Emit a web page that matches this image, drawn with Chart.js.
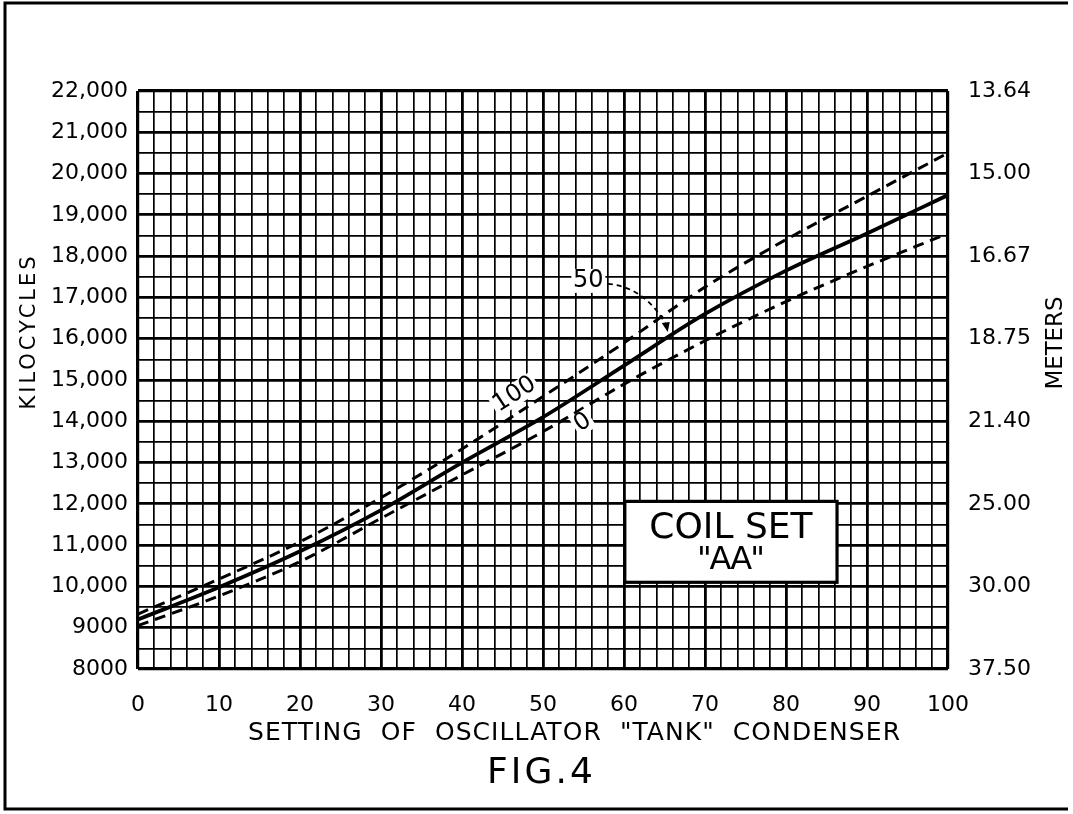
<!DOCTYPE html>
<html lang="en">
<head>
<meta charset="UTF-8">
<title>Fig. 4 - Coil Set AA</title>
<script src="https://cdn.jsdelivr.net/npm/chart.js"></script>
<style>
    body {
        margin: 0;
        background: #fff;
    }
    #wrap {
        width: 1073px;
        height: 814px;
    }
</style>
</head>
<body>
<div id="wrap">
    <canvas id="fig4" width="1073" height="814"></canvas>
</div>
<script>
// condenser dial settings
var settings = [0, 10, 20, 30, 40, 50, 60, 70, 80, 90, 100];

// kilocycles for the three curves (100, 50 and 0 on the other dial)
var kc100 = [9330, 10180, 11080, 12150, 13330, 14600, 15900, 17250, 18400, 19450, 20500];
var kc50  = [9200, 9980, 10850, 11850, 13000, 14100, 15350, 16600, 17650, 18550, 19480];
var kc0   = [9050, 9770, 10600, 11650, 12700, 13750, 14900, 15950, 16900, 17750, 18550];

// axis labels
var xLabels = ['0', '10', '20', '30', '40', '50', '60', '70', '80', '90', '100'];
var kcLabels = ['8000', '9000', '10,000', '11,000', '12,000', '13,000', '14,000', '15,000',
                '16,000', '17,000', '18,000', '19,000', '20,000', '21,000', '22,000'];
var meterLabels = ['37.50', '30.00', '25.00', '21.40', '18.75', '16.67', '15.00', '13.64'];

var FONT = '"DejaVu Sans", sans-serif';

function pts(ys) {
    return settings.map(function (s, i) { return { x: s, y: ys[i] }; });
}

// text that is stretched to a given width with letter spacing
function spaced(ctx, text, cx, cy, width) {
    ctx.letterSpacing = '0px';
    var w = ctx.measureText(text).width;
    var gap = (width - w) / (text.length - 1);
    ctx.letterSpacing = gap + 'px';
    ctx.textAlign = 'left';
    ctx.fillText(text, cx - width / 2, cy);
    ctx.letterSpacing = '0px';
}

var paper = {
    id: 'paper',
    beforeDraw: function (chart) {
        var ctx = chart.ctx;
        ctx.save();
        ctx.fillStyle = '#fff';
        ctx.fillRect(0, 0, chart.width, chart.height);
        ctx.restore();
    },
    afterDraw: function (chart) {
        var ctx = chart.ctx;
        var xs = chart.scales.x, ys = chart.scales.y;
        var px = function (v) { return xs.getPixelForValue(v); };
        var py = function (v) { return ys.getPixelForValue(v); };
        ctx.save();
        ctx.fillStyle = '#000';
        ctx.strokeStyle = '#000';
        ctx.textBaseline = 'middle';

        // outer frame
        ctx.lineWidth = 3;
        ctx.beginPath();
        ctx.moveTo(1068, 3);
        ctx.lineTo(5, 3);
        ctx.lineTo(5, 809);
        ctx.lineTo(1068, 809);
        ctx.stroke();

        // axis titles
        ctx.font = '25px ' + FONT;
        spaced(ctx, 'SETTING  OF  OSCILLATOR  "TANK"  CONDENSER', 574, 733, 652);
        ctx.font = '36px ' + FONT;
        spaced(ctx, 'FIG.4', 540, 774, 106);

        ctx.save();
        ctx.translate(30, 333);
        ctx.rotate(-Math.PI / 2);
        ctx.font = '21px ' + FONT;
        spaced(ctx, 'KILOCYCLES', 0, 0, 153);
        ctx.restore();

        ctx.save();
        ctx.translate(1056, 343);
        ctx.rotate(-Math.PI / 2);
        ctx.font = '23px ' + FONT;
        spaced(ctx, 'METERS', 0, 0, 93);
        ctx.restore();

        // curve tags
        ctx.font = '24px ' + FONT;
        ctx.textAlign = 'center';
        [['100', 46.5, 14650], ['0', 54.9, 13970]].forEach(function (t) {
            ctx.save();
            ctx.translate(px(t[1]), py(t[2]));
            ctx.rotate(-33 * Math.PI / 180);
            ctx.fillStyle = '#fff';
            var w = ctx.measureText(t[0]).width;
            ctx.fillRect(-w / 2 - 2, -11, w + 4, 22);
            ctx.fillStyle = '#000';
            ctx.fillText(t[0], 0, 0);
            ctx.restore();
        });

        // "50" with dashed leader and arrow onto the solid curve
        ctx.fillStyle = '#fff';
        ctx.fillRect(px(55.6) - 17, py(17400) - 12, 34, 24);
        ctx.fillStyle = '#000';
        ctx.fillText('50', px(55.6), py(17400));
        ctx.lineWidth = 1.8;
        ctx.setLineDash([5, 4]);
        ctx.beginPath();
        ctx.moveTo(px(58.0), py(17330));
        ctx.quadraticCurveTo(px(62.6), py(17250), px(65.2), py(16330));
        ctx.stroke();
        ctx.setLineDash([]);
        var tx = px(65.4), ty = py(16160);
        ctx.beginPath();
        ctx.moveTo(tx, ty);
        ctx.lineTo(tx - 6, ty - 9);
        ctx.lineTo(tx + 2, ty - 10);
        ctx.closePath();
        ctx.fill();

        // coil set box
        var bx0 = px(60.1), bx1 = px(86.3), by0 = py(12060), by1 = py(10100);
        ctx.fillStyle = '#fff';
        ctx.fillRect(bx0, by0, bx1 - bx0, by1 - by0);
        ctx.lineWidth = 3.2;
        ctx.strokeRect(bx0, by0, bx1 - bx0, by1 - by0);
        ctx.fillStyle = '#000';
        ctx.font = '36px ' + FONT;
        ctx.textAlign = 'center';
        ctx.fillText('COIL SET', (bx0 + bx1) / 2, by0 + 27);
        ctx.font = '32px ' + FONT;
        spaced(ctx, '"AA"', (bx0 + bx1) / 2, by0 + 59, 68);

        ctx.restore();
    }
};

function gridWidth(step, ends) {
    return function (c) {
        var v = c.tick.value;
        if (v === ends[0] || v === ends[1]) return 3.2;
        return v % step === 0 ? 2.8 : 1.7;
    };
}

var ctx = document.getElementById('fig4').getContext('2d');
var chart = new Chart(ctx, {
    type: 'line',
    data: {
        datasets: [
            { label: '100', data: pts(kc100), borderColor: '#000', borderWidth: 3, borderDash: [11, 7] },
            { label: '50', data: pts(kc50), borderColor: '#000', borderWidth: 3.8 },
            { label: '0', data: pts(kc0), borderColor: '#000', borderWidth: 3, borderDash: [11, 7] }
        ]
    },
    options: {
        responsive: false,
        animation: false,
        cubicInterpolationMode: 'monotone',
        elements: { point: { radius: 0 } },
        layout: { padding: { top: 91, left: 0, right: 0, bottom: 0 } },
        plugins: {
            legend: { display: false },
            tooltip: { enabled: false }
        },
        scales: {
            x: {
                type: 'linear',
                min: 0,
                max: 100,
                afterFit: function (s) { s.height = 145; },
                border: { display: false },
                grid: { color: '#000', lineWidth: gridWidth(10, [0, 100]), drawTicks: false },
                ticks: {
                    stepSize: 2,
                    padding: 23,
                    autoSkip: false,
                    maxRotation: 0,
                    color: '#000',
                    font: { family: FONT, size: 22 },
                    callback: function (v) { return v % 10 === 0 ? xLabels[v / 10] : ''; }
                }
            },
            y: {
                position: 'left',
                min: 8000,
                max: 22000,
                afterFit: function (s) { s.width = 138; },
                border: { display: false },
                grid: { color: '#000', lineWidth: gridWidth(1000, [8000, 22000]), drawTicks: false },
                ticks: {
                    stepSize: 500,
                    padding: 10,
                    autoSkip: false,
                    color: '#000',
                    font: { family: FONT, size: 22 },
                    callback: function (v) { return v % 1000 === 0 ? kcLabels[(v - 8000) / 1000] : ''; }
                }
            },
            y2: {
                position: 'right',
                min: 8000,
                max: 22000,
                afterFit: function (s) { s.width = 125; },
                border: { display: false },
                grid: { display: false, drawTicks: false },
                ticks: {
                    stepSize: 2000,
                    padding: 20,
                    autoSkip: false,
                    color: '#000',
                    font: { family: FONT, size: 22 },
                    callback: function (v) { return meterLabels[(v - 8000) / 2000]; }
                }
            }
        }
    },
    plugins: [paper]
});
</script>
</body>
</html>
